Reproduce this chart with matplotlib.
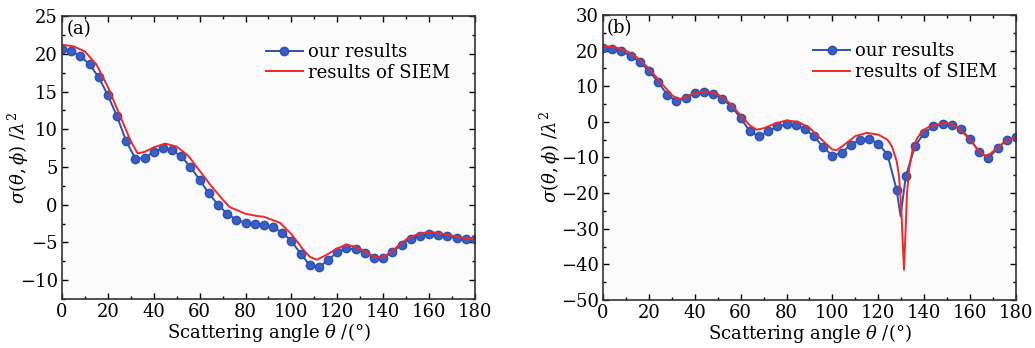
import matplotlib
matplotlib.use("Agg")
import matplotlib.pyplot as plt
from matplotlib.ticker import MultipleLocator
import numpy as np

plt.rcParams['font.family'] = ['DejaVu Serif']
plt.rcParams['mathtext.fontset'] = 'dejavuserif'

# marker positions (every 4 degrees)
theta = list(range(0, 181, 4))

# panel (a)
ours_a = [20.6, 20.4, 19.7, 18.6, 16.9, 14.5, 11.7, 8.4, 6.1, 6.2, 7.0, 7.5,
          7.2, 6.4, 5.0, 3.3, 1.5, 0.0, -1.2, -2.0, -2.4, -2.6, -2.7, -3.0,
          -3.7, -4.8, -6.5, -8.0, -8.3, -7.3, -6.3, -5.8, -5.9, -6.4, -7.0,
          -7.0, -6.3, -5.3, -4.5, -4.1, -3.9, -4.0, -4.2, -4.4, -4.5, -4.6]
siem_a_x = [0, 5, 10, 15, 20, 25, 30, 33, 36, 40, 45, 50, 55, 60, 65, 70, 73,
            80, 85, 88, 95, 100, 105, 108, 111, 115, 120, 124, 128, 131, 136,
            139, 143, 146, 150, 155, 160, 165, 170, 175, 180]
siem_a = [21.2, 21.0, 20.3, 18.6, 15.6, 12.0, 8.4, 6.8, 7.0, 7.6, 8.1, 7.7,
          6.5, 4.5, 2.5, 0.7, -0.3, -1.2, -1.5, -1.6, -2.4, -3.9, -5.9, -6.9,
          -7.3, -6.7, -5.8, -5.3, -5.6, -6.0, -6.9, -7.0, -6.4, -5.6, -4.6,
          -3.9, -3.6, -3.8, -4.1, -4.4, -4.6]

# panel (b)
ours_b = [20.6, 20.4, 19.8, 18.6, 16.8, 14.3, 11.2, 7.6, 5.8, 6.7, 8.0, 8.3,
          7.9, 6.5, 4.3, 1.1, -2.7, -4.1, -2.7, -1.3, -0.7, -1.0, -2.1, -4.1,
          -7.1, -9.5, -8.7, -6.4, -5.0, -4.8, -6.1, -9.2, -19.1, -15.2, -6.8,
          -3.1, -1.3, -0.6, -0.8, -2.1, -4.8, -8.5, -10.2, -7.4, -5.1, -4.3]
# extra point of our curve inside the deep minimum (between markers)
dip_b_x = 129.7
dip_b_y = -26.5
siem_b_x = [0, 5, 10, 15, 20, 25, 30, 33, 36, 40, 44, 48, 52, 56, 60, 64, 67,
            70, 75, 80, 85, 90, 95, 100, 102, 105, 110, 115, 120, 124, 126,
            128, 129, 130, 130.6, 131.2, 131.8, 132.5, 133.5, 135, 137, 139.5,
            142, 145, 149, 152, 155, 160, 163, 167, 170, 175, 180]
siem_b = [21.3, 21.0, 20.0, 18.0, 15.0, 11.2, 7.5, 6.3, 7.0, 8.0, 8.6, 8.3,
          7.0, 4.8, 1.8, -1.0, -2.2, -1.8, -0.5, 0.4, 0.0, -1.7, -4.8, -7.8,
          -7.9, -6.5, -4.0, -3.1, -3.6, -5.0, -7.0, -11.0, -15.0, -24.0,
          -33.0, -41.5, -32.0, -20.0, -13.0, -7.5, -4.5, -2.4, -1.4, -0.8,
          -0.3, -0.6, -1.8, -5.0, -7.5, -9.9, -8.3, -5.6, -4.3]

blue = '#2b4fb3'
red = '#f02828'

fig = plt.figure(figsize=(10.35, 3.48), dpi=100)
ax1 = fig.add_axes([0.0599, 0.1408, 0.399, 0.813])
ax2 = fig.add_axes([0.5826, 0.138, 0.399, 0.819])


def style(ax, ymin, ymax, ymaj, label, leg_x, ylab_x):
    ax.set_facecolor('#fbfbfb')
    ax.set_xlim(0, 180)
    ax.set_ylim(ymin, ymax)
    ax.xaxis.set_major_locator(MultipleLocator(20))
    ax.xaxis.set_minor_locator(MultipleLocator(10))
    ax.yaxis.set_major_locator(MultipleLocator(ymaj))
    ax.yaxis.set_minor_locator(MultipleLocator(ymaj / 2))
    ax.tick_params(which='both', direction='in', top=True, right=True,
                   labelsize=13, pad=3)
    ax.tick_params(which='major', length=4, width=1)
    ax.tick_params(which='minor', length=2.5, width=1)
    for s in ax.spines.values():
        s.set_linewidth(1.2)
        s.set_color('#333333')
    ax.set_xlabel(r'Scattering angle $\theta$ /(°)', fontsize=13, labelpad=0)
    ax.set_ylabel(r'$\sigma(\theta,\phi)$ /$\lambda^2$', fontsize=13)
    ax.yaxis.set_label_coords(ylab_x, 0.5)
    ax.text(0.01, 0.985, label, transform=ax.transAxes, fontsize=13,
            ha='left', va='top')
    ax.legend(loc='upper right', bbox_to_anchor=(leg_x, 0.93), frameon=False,
              fontsize=13, handlelength=2.05, handletextpad=0.3,
              labelspacing=0.15, borderaxespad=0)


ax1.plot(theta, ours_a, color=blue, lw=1.4, marker='o', ms=6,
         markerfacecolor='#3a5fc4', markeredgecolor=blue, label='our results')
ax1.plot(siem_a_x, siem_a, color=red, lw=1.4, label='results of SIEM')
style(ax1, -12.5, 25, 5, '(a)', 0.958, -0.074)

line_x = theta[:33] + [dip_b_x] + theta[33:]
line_y = ours_b[:33] + [dip_b_y] + ours_b[33:]
ax2.plot(line_x, line_y, color=blue, lw=1.4, marker='o', ms=6,
         markevery=list(range(0, 33)) + list(range(34, 47)),
         markerfacecolor='#3a5fc4', markeredgecolor=blue, label='our results')
ax2.plot(siem_b_x, siem_b, color=red, lw=1.4, label='results of SIEM')
style(ax2, -50, 30, 10, '(b)', 0.973, -0.097)

fig.savefig('out.png', dpi=100)
